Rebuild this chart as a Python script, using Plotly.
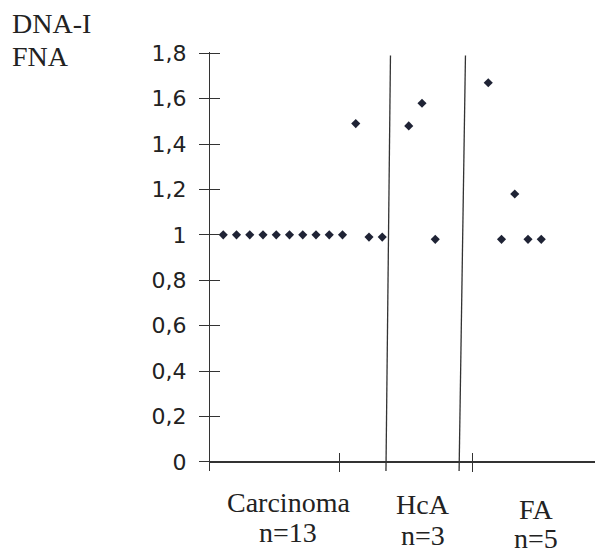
import plotly.graph_objects as go

# ---- data ----
carcinoma_x = [1, 2, 3, 4, 5, 6, 7, 8, 9, 10, 11, 12, 13]
carcinoma_y = [1, 1, 1, 1, 1, 1, 1, 1, 1, 1, 1.49, 0.99, 0.99]
hca_x = [15, 16, 17]
hca_y = [1.48, 1.58, 0.98]
fa_x = [21, 22, 23, 24, 25]
fa_y = [1.67, 0.98, 1.18, 0.98, 0.98]

y_tickvals = [0, 0.2, 0.4, 0.6, 0.8, 1.0, 1.2, 1.4, 1.6, 1.8]
y_ticktext = ["0", "0,2", "0,4", "0,6", "0,8", "1", "1,2", "1,4", "1,6", "1,8"]
x_tickvals = [9.8, 19.8]

group_names = ["Carcinoma", "HcA", "FA"]
group_n = ["n=13", "n=3", "n=5"]
axis_title_lines = ["DNA-I", "FNA"]

# ---- layout constants ----
LINE = "#333333"
TXT = "#222222"
DOT = "#1f2335"
YR = [-0.0405, 1.8055]
XR = [0, 29.66]
group_label_x = [5.9, 16.1, 24.6]
group_name_y = [-0.074, -0.079, -0.093]
group_n_y = [-0.146, -0.155, -0.160]
separators = [(13.28, 13.62), (18.8, 19.28)]  # (bottom x, top x)

fig = go.Figure()
for xs, ys in [(carcinoma_x, carcinoma_y), (hca_x, hca_y), (fa_x, fa_y)]:
    fig.add_trace(go.Scatter(
        x=xs, y=ys, mode="markers",
        marker=dict(symbol="diamond", size=7, color=DOT),
        showlegend=False, hoverinfo="skip", cliponaxis=False))
# helper (empty) traces to realise the overlay axes
fig.add_trace(go.Scatter(x=[None], y=[None], xaxis="x", yaxis="y2", showlegend=False))
fig.add_trace(go.Scatter(x=[None], y=[None], xaxis="x2", yaxis="y", showlegend=False))

xpos = -YR[0] / (YR[1] - YR[0])

common_x = dict(range=XR, showgrid=False, zeroline=False, showline=False,
                tickvals=x_tickvals, showticklabels=False, ticklen=9,
                tickwidth=1.3, tickcolor=LINE, anchor="free", position=xpos)
common_y = dict(range=YR, showgrid=False, tickvals=y_tickvals, ticklen=10,
                tickwidth=1.3, tickcolor=LINE)

# the page body has an 8px margin, so the figure is offset by (8, 8)
fig.update_layout(
    width=595, height=545,
    margin=dict(l=202, r=0, t=44, b=82),
    paper_bgcolor="white", plot_bgcolor="white",
    xaxis=dict(**common_x, ticks="outside"),
    xaxis2=dict(**common_x, ticks="inside", overlaying="x"),
    yaxis=dict(**common_y, ticks="outside", ticktext=y_ticktext,
               tickfont=dict(family="DejaVu Sans", size=22, color=TXT),
               ticklabelstandoff=8,
               showline=True, linecolor=LINE, linewidth=1.3,
               zeroline=True, zerolinecolor=LINE, zerolinewidth=1.5,
               anchor="x"),
    yaxis2=dict(**common_y, ticks="inside", showticklabels=False,
                overlaying="y", showline=False, zeroline=False, anchor="x"),
)

for xb, xt in separators:
    fig.add_shape(type="line", xref="x", yref="y", x0=xb, y0=YR[0], x1=xt, y1=1.79,
                  line=dict(color=LINE, width=1.3))

serif = dict(family="Liberation Serif", size=28, color=TXT)
for i, name in enumerate(group_names):
    fig.add_annotation(x=group_label_x[i], y=group_name_y[i], xref="x", yref="paper",
                       text=name, showarrow=False, font=serif,
                       xanchor="center", yanchor="middle")
    fig.add_annotation(x=group_label_x[i], y=group_n_y[i], xref="x", yref="paper",
                       text=group_n[i], showarrow=False, font=serif,
                       xanchor="center", yanchor="middle")

for txt, yy in zip(axis_title_lines, [1.069, 0.99]):
    fig.add_annotation(x=-0.509, y=yy, xref="paper", yref="paper", text=txt,
                       showarrow=False, font=serif, xanchor="left", yanchor="middle")

fig.write_html("out.html")
